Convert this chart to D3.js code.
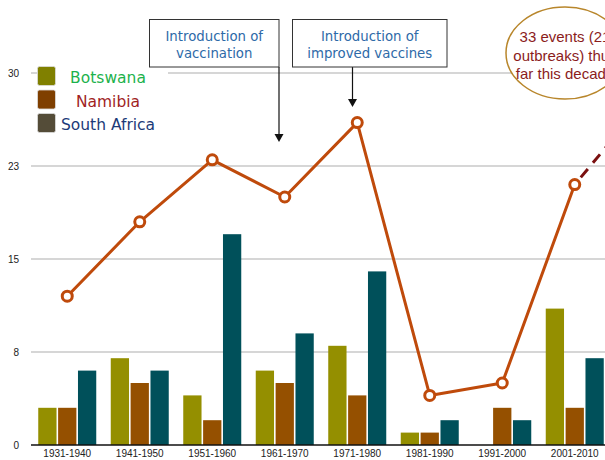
<!DOCTYPE html>
<html>
<head>
<meta charset="utf-8">
<script src="https://cdn.jsdelivr.net/npm/d3@7"></script>
<style>
  body { margin: 0; background: #fff; }
  svg { display: block; }
  .tick-label { font-family: "Liberation Sans", Arial, sans-serif; font-size: 10px; fill: #222; }
  .grid-line { stroke: #c8c8c8; stroke-width: 1.5; }
</style>
</head>
<body>
<div id="chart"></div>
<script>
var decades = ["1931-1940", "1941-1950", "1951-1960", "1961-1970", "1971-1980", "1981-1990", "1991-2000", "2001-2010"];
var series = ["Botswana", "Namibia", "South Africa"];
var botswana = [3, 7, 4, 6, 8, 1, 0, 11];
var namibia = [3, 5, 2, 5, 4, 1, 3, 3];
var southAfrica = [6, 6, 17, 9, 14, 2, 2, 7];
var totals = [12, 18, 23, 20, 26, 4, 5, 21];
var projectedDecade = "2011-2020";
var projectedTotal = 28;
var yTicks = [0, 7.5, 15, 22.5, 30];

var barColors = ["#948f00", "#955000", "#00505a"];
var legendColors = ["#808000", "#7f3f00", "#544c38"];
var legendTextColors = ["#1db24c", "#a01f1f", "#1c3a78"];

var width = 605,
    height = 460;

var svg = d3.select("#chart").append("svg")
  .attr("width", width)
  .attr("height", height);

// 9 bands, the last (projection) one is off screen
var x0 = d3.scaleBand()
  .domain(decades.concat([projectedDecade]))
  .range([31, 31 + (611 - 31) / 8 * 9]);

var groupHalf = 29;
var x1 = d3.scaleBand()
  .domain(series)
  .range([x0.bandwidth() / 2 - groupHalf, x0.bandwidth() / 2 + groupHalf])
  .paddingInner(0.08);

var y = d3.scaleLinear()
  .domain([0, 30])
  .range([445, 73]);

// grid
svg.selectAll(".grid-line")
  .data(yTicks.slice(1))
  .enter()
  .append("line")
    .attr("class", "grid-line")
    .attr("x1", 31)
    .attr("x2", width)
    .attr("y1", function (d) { return y(d); })
    .attr("y2", function (d) { return y(d); });

svg.selectAll(".tick-label.y")
  .data(yTicks)
  .enter()
  .append("text")
    .attr("class", "tick-label y")
    .attr("x", 19)
    .attr("y", function (d) { return y(d) + 3.5; })
    .attr("text-anchor", "end")
    .text(function (d) { return Math.round(d); });

// bars
var values = [botswana, namibia, southAfrica];
var rows = decades.map(function (d, i) {
  return series.map(function (s, j) {
    return { decade: d, name: s, value: values[j][i], color: barColors[j] };
  });
});

var groups = svg.selectAll(".bar-group")
  .data(rows)
  .enter()
  .append("g")
    .attr("class", "bar-group")
    .attr("transform", function (d) { return "translate(" + x0(d[0].decade) + ",0)"; });

groups.selectAll("rect")
  .data(function (d) { return d.filter(function (e) { return e.value > 0; }); })
  .enter()
  .append("rect")
    .attr("x", function (d) { return x1(d.name); })
    .attr("y", function (d) { return y(d.value); })
    .attr("width", x1.bandwidth())
    .attr("height", function (d) { return y(0) - y(d.value); })
    .attr("fill", function (d) { return d.color; });

// x axis
svg.append("line")
  .attr("x1", 31)
  .attr("x2", width)
  .attr("y1", y(0))
  .attr("y2", y(0))
  .attr("stroke", "#111")
  .attr("stroke-width", 1.5);

svg.selectAll(".tick-label.x")
  .data(decades)
  .enter()
  .append("text")
    .attr("class", "tick-label x")
    .attr("x", function (d) { return x0(d) + x0.bandwidth() / 2; })
    .attr("y", 457)
    .attr("text-anchor", "middle")
    .text(function (d) { return d; });

// totals line
var cx = function (d) { return x0(d) + x0.bandwidth() / 2; };
var totalPoints = decades.map(function (d, i) { return { decade: d, value: totals[i] }; });
var lineGen = d3.line()
  .x(function (d) { return cx(d.decade); })
  .y(function (d) { return y(d.value); });

svg.append("path")
  .datum([totalPoints[totalPoints.length - 1], { decade: projectedDecade, value: projectedTotal }])
  .attr("d", lineGen)
  .attr("fill", "none")
  .attr("stroke", "#7b1010")
  .attr("stroke-width", 3)
  .attr("stroke-dasharray", "11,8")
  .attr("stroke-dashoffset", 9.6);

svg.append("path")
  .datum(totalPoints)
  .attr("d", lineGen)
  .attr("fill", "none")
  .attr("stroke", "#bf4a0b")
  .attr("stroke-width", 3)
  .attr("stroke-linejoin", "round");

svg.selectAll(".total-dot")
  .data(totalPoints)
  .enter()
  .append("circle")
    .attr("class", "total-dot")
    .attr("cx", function (d) { return cx(d.decade); })
    .attr("cy", function (d) { return y(d.value); })
    .attr("r", 5)
    .attr("fill", "#fff")
    .attr("stroke", "#bf4a0b")
    .attr("stroke-width", 3);

// legend
var legend = svg.append("g").attr("class", "legend");
legend.append("rect")
  .attr("x", 37)
  .attr("y", 63)
  .attr("width", 131)
  .attr("height", 72)
  .attr("fill", "#fff");

var legendItems = legend.selectAll(".legend-item")
  .data(series)
  .enter()
  .append("g")
    .attr("class", "legend-item")
    .attr("transform", function (d, i) { return "translate(0," + (i * 23.5) + ")"; });

legendItems.append("rect")
  .attr("x", 37.5)
  .attr("y", 66.5)
  .attr("width", 18)
  .attr("height", 19)
  .attr("rx", 2)
  .attr("fill", function (d, i) { return legendColors[i]; })
  .attr("stroke", "#ddd")
  .attr("stroke-width", 0.8);

legendItems.append("text")
  .attr("x", 108)
  .attr("y", 83)
  .attr("text-anchor", "middle")
  .attr("font-family", "DejaVu Sans, Verdana, sans-serif")
  .attr("font-size", "15.5px")
  .attr("fill", function (d, i) { return legendTextColors[i]; })
  .text(function (d) { return d; });

// annotations
var notes = [
  { lines: ["Introduction of", "vaccination"], x: 149.5, w: 129.5, arrowX: 279, arrowTo: 142 },
  { lines: ["Introduction of", "improved vaccines"], x: 292.5, w: 154.5, arrowX: 352.5, arrowTo: 107 }
];

notes.forEach(function (n) {
  svg.append("line")
    .attr("x1", n.arrowX)
    .attr("x2", n.arrowX)
    .attr("y1", 67)
    .attr("y2", n.arrowTo - 7)
    .attr("stroke", "#111")
    .attr("stroke-width", 1.2);
  svg.append("path")
    .attr("d", "M" + (n.arrowX - 4.5) + "," + (n.arrowTo - 8) + "L" + (n.arrowX + 4.5) + "," + (n.arrowTo - 8) + "L" + n.arrowX + "," + n.arrowTo + "Z")
    .attr("fill", "#111");
  svg.append("rect")
    .attr("x", n.x)
    .attr("y", 19.5)
    .attr("width", n.w)
    .attr("height", 47.5)
    .attr("fill", "#fff")
    .attr("stroke", "#333")
    .attr("stroke-width", 1);
  n.lines.forEach(function (l, i) {
    svg.append("text")
      .attr("x", n.x + n.w / 2)
      .attr("y", 40.5 + i * 17)
      .attr("text-anchor", "middle")
      .attr("font-family", "DejaVu Sans, Verdana, sans-serif")
      .attr("font-size", "13.3px")
      .attr("fill", "#2e6aa8")
      .text(l);
  });
});

// callout ellipse
svg.append("ellipse")
  .attr("cx", 565)
  .attr("cy", 53)
  .attr("rx", 59)
  .attr("ry", 46)
  .attr("fill", "#fff")
  .attr("stroke", "#b8862b")
  .attr("stroke-width", 1.5);

["33 events (21", "outbreaks) thus", "far this decade"].forEach(function (l, i) {
  svg.append("text")
    .attr("x", 565)
    .attr("y", 42 + i * 18.5)
    .attr("text-anchor", "middle")
    .attr("font-family", "Liberation Sans, Arial, sans-serif")
    .attr("font-size", "15px")
    .attr("fill", "#8b1c1c")
    .text(l);
});
</script>
</body>
</html>
